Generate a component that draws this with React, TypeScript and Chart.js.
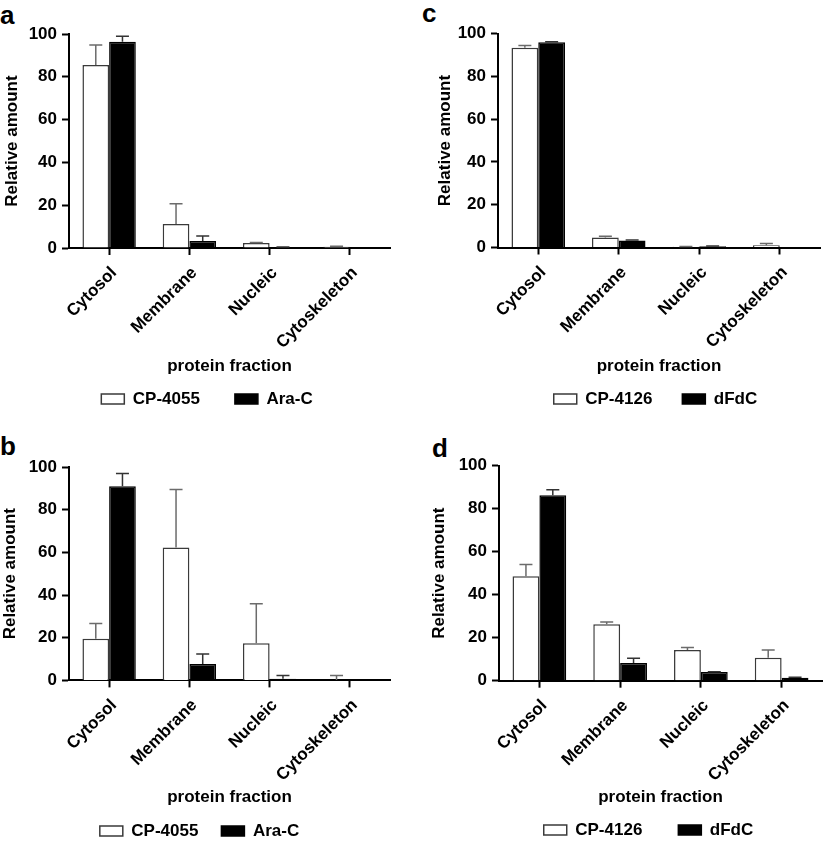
import { useEffect, useRef } from "react"
import { Chart, registerables } from "chart.js"

Chart.register(...registerables)

const FONT_FAMILY = '"Liberation Sans", Arial, Helvetica, sans-serif'

// shared axes
const categories = ["Cytosol", "Membrane", "Nucleic", "Cytoskeleton"]
const yTickValues = [0, 20, 40, 60, 80, 100]

// panel a
const aCP4055 = [85.5, 11.2, 2.3, 0.6]
const aCP4055Err = [9.4, 9.5, 0.3, 0.2]
const aAraC = [96.4, 3.3, 0.4, 0.2]
const aAraCErr = [2.5, 2.3, 0.1, 0]

// panel b
const bCP4055 = [19.5, 62.3, 17.4, 0.2]
const bCP4055Err = [7.2, 27.2, 18.5, 2.1]
const bAraC = [91.0, 7.7, 0.8, 0]
const bAraCErr = [6.0, 4.7, 1.5, 0]

// panel c
const cCP4126 = [93.3, 4.7, 0.4, 1.1]
const cCP4126Err = [1.1, 0.5, 0.1, 0.8]
const cDFdC = [95.9, 3.3, 0.6, 0.1]
const cDFdCErr = [0.3, 0.2, 0.1, 0]

// panel d
const dCP4126 = [48.6, 26.2, 14.3, 10.7]
const dCP4126Err = [5.4, 1.1, 1.2, 3.6]
const dDFdC = [86.2, 8.2, 4.0, 1.4]
const dDFdCErr = [2.6, 2.2, 0.2, 0.2]

interface Series {
  label: string
  values: number[]
  errors: number[]
  filled: boolean
}

// page-pixel layout of each panel
interface PanelLayout {
  letter: string
  letterLeft: number
  letterTop: number
  left: number
  top: number
  width: number
  height: number
  axisLeft: number
  axisRight: number
  plotTop: number
  plotBottom: number
  yTitleX: number
  xTitleY: number
  legendX: number
  legendY: number
  legendGap: number
}

const errorBarPlugin = {
  id: "errorBars",
  afterDatasetsDraw(chart: any) {
    const { ctx } = chart
    const yScale = chart.scales.y
    chart.data.datasets.forEach((ds: any, i: number) => {
      if (!ds.errors) return
      const meta = chart.getDatasetMeta(i)
      ctx.save()
      ctx.strokeStyle = ds.errorColor
      ctx.lineWidth = 1.5
      meta.data.forEach((bar: any, j: number) => {
        const err = ds.errors[j]
        if (!err) return
        const top = yScale.getPixelForValue(ds.data[j] + err)
        ctx.beginPath()
        ctx.moveTo(bar.x, bar.y)
        ctx.lineTo(bar.x, top)
        ctx.moveTo(bar.x - 6.5, top)
        ctx.lineTo(bar.x + 6.5, top)
        ctx.stroke()
      })
      ctx.restore()
    })
  },
}

// the legend in the figure is not centred on the plot, move its box
const legendShiftPlugin = {
  id: "legendShift",
  afterLayout(chart: any, _args: any, opts: any) {
    const legend = chart.legend
    if (!legend || opts.centerX == null) return
    const d = opts.centerX - (legend.left + legend.right) / 2
    legend.left += d
    legend.right += d
  },
}

function Panel({ layout, series }: { layout: PanelLayout; series: Series[] }) {
  const chartRef = useRef<HTMLCanvasElement>(null)
  const chartInstance = useRef<Chart | null>(null)

  useEffect(() => {
    if (!chartRef.current) return
    const ctx = chartRef.current.getContext("2d")
    if (!ctx) return

    const font = { family: FONT_FAMILY, size: 17, weight: "bold" as const }
    const half = 10.2 // half of the 17px line height

    // canvas-relative positions
    const axisLeft = layout.axisLeft - layout.left
    const axisRight = layout.axisRight - layout.left
    const padRight = layout.width - axisRight
    const yTitlePad = layout.yTitleX - layout.left - half
    const padBottom = layout.height - 18.5 - (layout.legendY - layout.top)
    const legendTop = layout.height - padBottom - 27 - layout.legendGap
    const xTitlePad = legendTop - half - (layout.xTitleY - layout.top)
    const xHeight = legendTop - (layout.plotBottom - layout.top)

    chartInstance.current = new Chart(ctx, {
      type: "bar",
      data: {
        labels: categories,
        datasets: series.map((s) => ({
          label: s.label,
          data: s.values,
          errors: s.errors,
          errorColor: s.filled ? "#333" : "#6b6b6b",
          backgroundColor: s.filled ? "#000" : "#fff",
          borderColor: s.filled ? "#000" : "#3a3a3a",
          borderWidth: 1.5,
          categoryPercentage: 0.665,
          barPercentage: 1,
        })) as any,
      },
      options: {
        responsive: false,
        animation: false,
        layout: {
          padding: {
            left: 0,
            right: padRight,
            top: layout.plotTop - layout.top,
            bottom: padBottom,
          },
        },
        scales: {
          x: {
            offset: true,
            grid: {
              offset: false,
              drawOnChartArea: false,
              tickLength: 7,
              tickWidth: 2,
              tickColor: "#000",
            },
            border: { color: "#000", width: 2 },
            ticks: {
              minRotation: 45,
              maxRotation: 45,
              autoSkip: false,
              color: "#000",
              padding: 8,
              labelOffset: 5,
              font,
            },
            title: {
              display: true,
              text: "protein fraction",
              color: "#000",
              font,
              padding: { top: 0, bottom: xTitlePad },
            },
            afterFit: (scale: any) => {
              scale.height = xHeight
            },
          },
          y: {
            min: 0,
            max: 100,
            afterBuildTicks: (scale: any) => {
              scale.ticks = yTickValues.map((value) => ({ value }))
            },
            grid: {
              drawOnChartArea: false,
              tickLength: 7,
              tickWidth: 2,
              tickColor: "#000",
            },
            border: { color: "#000", width: 2 },
            ticks: { color: "#000", padding: 5, font },
            title: {
              display: true,
              text: "Relative amount",
              color: "#000",
              font,
              padding: { top: yTitlePad, bottom: 0 },
            },
            afterFit: (scale: any) => {
              scale.width = axisLeft
            },
          },
        },
        plugins: {
          legend: {
            position: "bottom",
            labels: {
              boxWidth: 23,
              boxHeight: 10,
              padding: layout.legendGap,
              color: "#000",
              font,
            },
          },
          legendShift: { centerX: layout.legendX - layout.left },
          tooltip: { enabled: false },
        } as any,
      },
      plugins: [errorBarPlugin, legendShiftPlugin],
    })

    return () => {
      if (chartInstance.current) {
        chartInstance.current.destroy()
        chartInstance.current = null
      }
    }
  }, [layout, series])

  return (
    <>
      <div
        style={{
          position: "absolute",
          left: layout.letterLeft,
          top: layout.letterTop,
          fontFamily: FONT_FAMILY,
          fontWeight: "bold",
          fontSize: 26,
          lineHeight: "26px",
        }}
      >
        {layout.letter}
      </div>
      <canvas
        ref={chartRef}
        width={layout.width}
        height={layout.height}
        style={{
          position: "absolute",
          left: layout.left,
          top: layout.top,
          width: layout.width,
          height: layout.height,
        }}
      />
    </>
  )
}

const layoutA: PanelLayout = {
  letter: "a", letterLeft: 0, letterTop: 2,
  left: 0, top: 0, width: 412, height: 420,
  axisLeft: 69, axisRight: 390, plotTop: 34, plotBottom: 248,
  yTitleX: 12, xTitleY: 366, legendX: 207, legendY: 399, legendGap: 35,
}
const layoutB: PanelLayout = {
  letter: "b", letterLeft: 0, letterTop: 433,
  left: 0, top: 420, width: 412, height: 440,
  axisLeft: 69, axisRight: 390, plotTop: 467, plotBottom: 680.4,
  yTitleX: 10, xTitleY: 797, legendX: 199.5, legendY: 831, legendGap: 23,
}
const layoutC: PanelLayout = {
  letter: "c", letterLeft: 422, letterTop: 0,
  left: 412, top: 0, width: 413, height: 420,
  axisLeft: 498, axisRight: 820, plotTop: 33.5, plotBottom: 247.5,
  yTitleX: 445, xTitleY: 366, legendX: 655.5, legendY: 399, legendGap: 30,
}
const layoutD: PanelLayout = {
  letter: "d", letterLeft: 432, letterTop: 435,
  left: 412, top: 420, width: 413, height: 440,
  axisLeft: 499, axisRight: 822, plotTop: 465.7, plotBottom: 680.7,
  yTitleX: 439, xTitleY: 797, legendX: 648.5, legendY: 830, legendGap: 36,
}

const seriesA: Series[] = [
  { label: "CP-4055", values: aCP4055, errors: aCP4055Err, filled: false },
  { label: "Ara-C", values: aAraC, errors: aAraCErr, filled: true },
]
const seriesB: Series[] = [
  { label: "CP-4055", values: bCP4055, errors: bCP4055Err, filled: false },
  { label: "Ara-C", values: bAraC, errors: bAraCErr, filled: true },
]
const seriesC: Series[] = [
  { label: "CP-4126", values: cCP4126, errors: cCP4126Err, filled: false },
  { label: "dFdC", values: cDFdC, errors: cDFdCErr, filled: true },
]
const seriesD: Series[] = [
  { label: "CP-4126", values: dCP4126, errors: dCP4126Err, filled: false },
  { label: "dFdC", values: dDFdC, errors: dDFdCErr, filled: true },
]

export default function App() {
  return (
    <div
      style={{
        position: "fixed",
        left: 0,
        top: 0,
        width: 825,
        height: 841,
        overflow: "hidden",
        background: "#fff",
      }}
    >
      <Panel layout={layoutA} series={seriesA} />
      <Panel layout={layoutB} series={seriesB} />
      <Panel layout={layoutC} series={seriesC} />
      <Panel layout={layoutD} series={seriesD} />
    </div>
  )
}
